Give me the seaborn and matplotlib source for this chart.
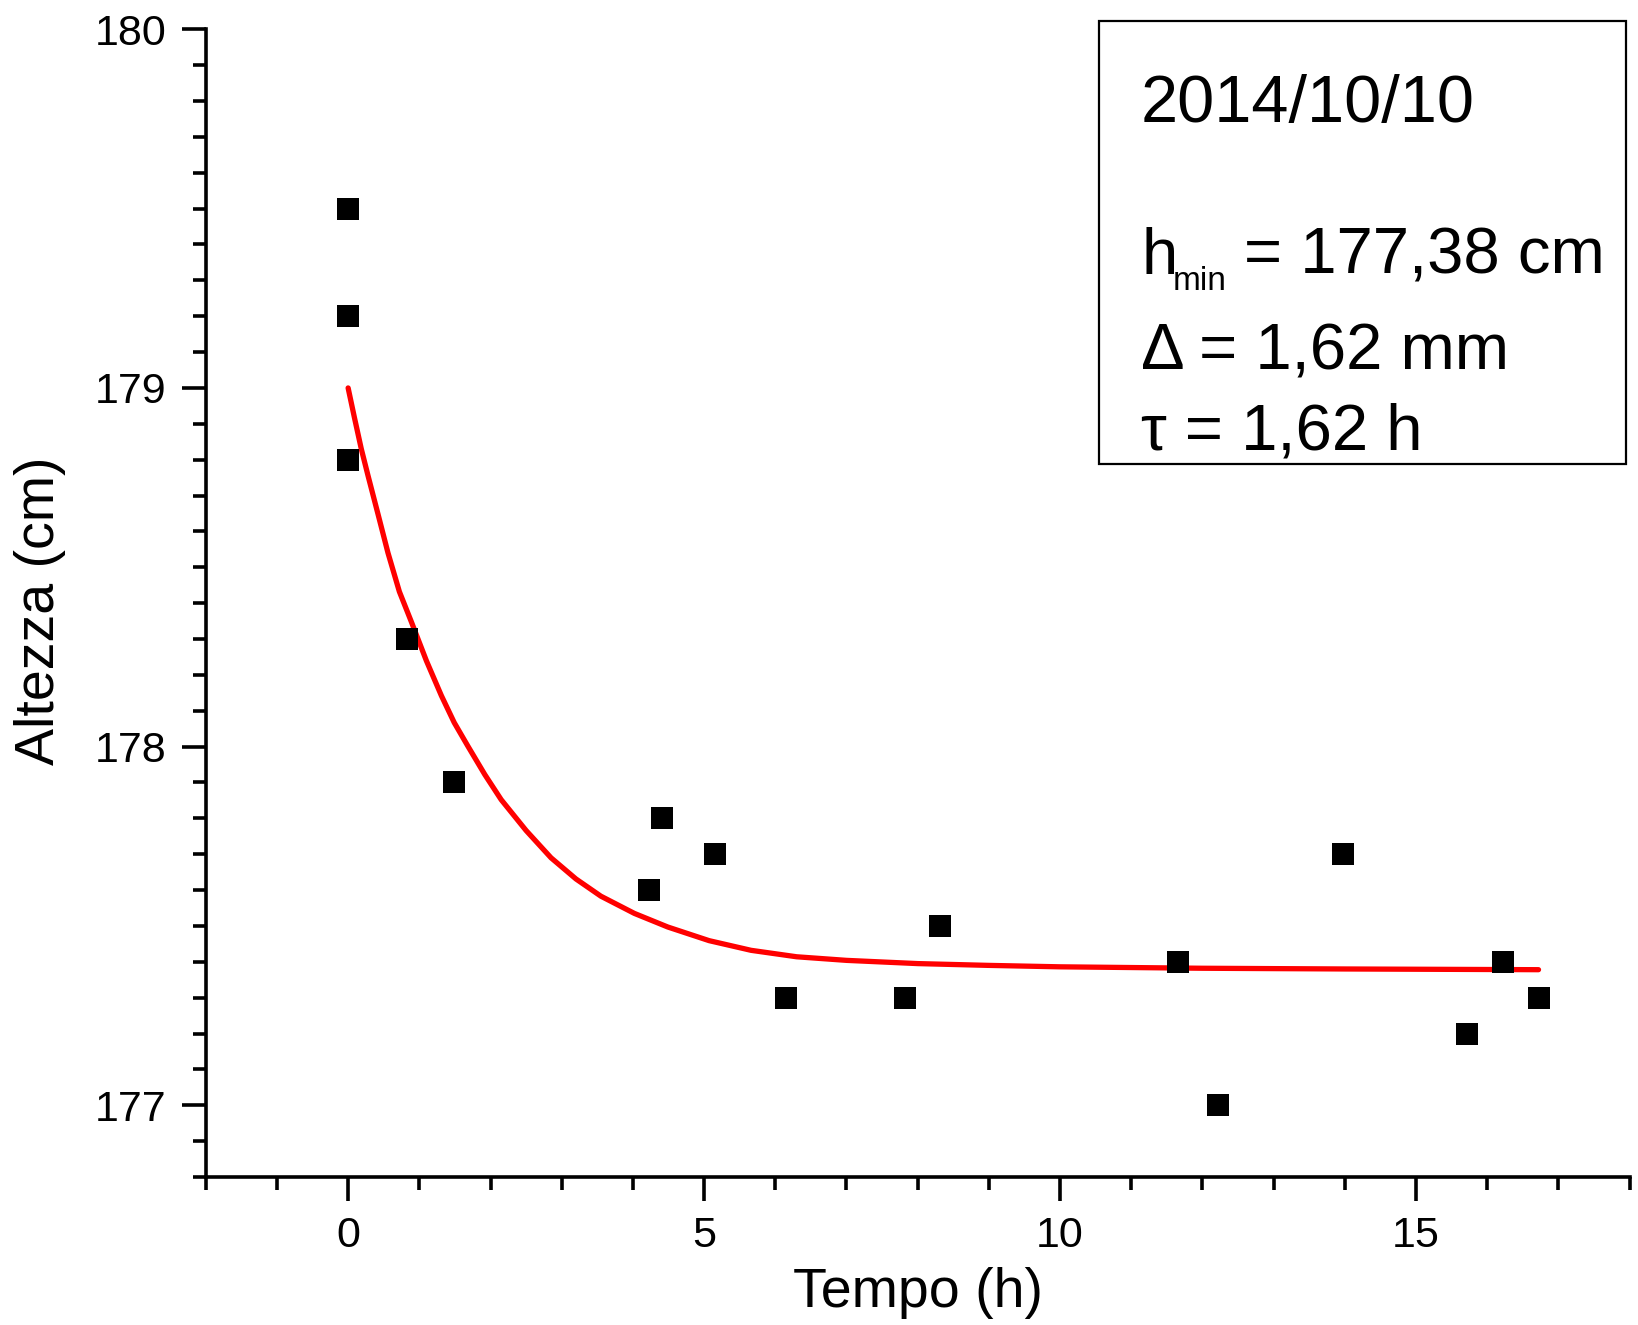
import matplotlib
matplotlib.use("Agg")
import matplotlib.pyplot as plt
from matplotlib.patches import Rectangle
from matplotlib.ticker import AutoMinorLocator
import seaborn as sns

# measured heights (cm) vs elapsed time (h)
tempo = [0.0, 0.0, 0.0, 0.82, 1.49, 4.23, 4.41, 5.15, 6.15, 7.82, 8.32,
         11.65, 12.22, 13.98, 15.72, 16.22, 16.72]
altezza = [179.5, 179.2, 178.8, 178.3, 177.9, 177.6, 177.8, 177.7, 177.3,
           177.3, 177.5, 177.4, 177.0, 177.7, 177.2, 177.4, 177.3]

# exponential fit curve
fit_t = [0.0, 0.09, 0.185, 0.28, 0.42, 0.56, 0.72, 0.89, 1.1, 1.31, 1.49,
         1.68, 1.92, 2.15, 2.5, 2.85, 3.2, 3.55, 4.02, 4.49, 5.07, 5.66,
         6.3, 7.0, 8.0, 9.0, 10.0, 12.0, 14.0, 16.72]
fit_h = [179.0, 178.916, 178.83, 178.755, 178.648, 178.54, 178.432, 178.347,
         178.239, 178.142, 178.067, 178.002, 177.922, 177.852, 177.766,
         177.69, 177.631, 177.583, 177.535, 177.497, 177.459, 177.432,
         177.414, 177.404, 177.395, 177.39, 177.386, 177.382, 177.38, 177.378]

xticks_major = [0, 5, 10, 15]
yticks_major = [177, 178, 179, 180]

W, H = 1638, 1325

sns.set_style("ticks")
plt.rcParams["font.family"] = ["Liberation Sans", "DejaVu Sans"]
plt.rcParams.update({
    "text.color": "black",
    "axes.labelcolor": "black",
    "axes.edgecolor": "black",
    "xtick.color": "black",
    "ytick.color": "black",
})

fig = plt.figure(figsize=(W / 100, H / 100), dpi=100)
ax = fig.add_axes([0.1256, 0.1117, 0.8693, 0.8662])

sns.lineplot(x=fit_t, y=fit_h, ax=ax, color="#ff0000", linewidth=3.8,
             sort=False, estimator=None, zorder=2)
sns.scatterplot(x=tempo, y=altezza, ax=ax, marker="s", s=230, color="black",
                linewidth=0, zorder=3)

ax.set_xlim(-2, 18)
ax.set_ylim(176.8, 180)
ax.set_xticks(xticks_major)
ax.set_yticks(yticks_major)
ax.xaxis.set_minor_locator(AutoMinorLocator(5))
ax.yaxis.set_minor_locator(AutoMinorLocator(10))

for side in ("top", "right"):
    ax.spines[side].set_visible(False)
for side in ("left", "bottom"):
    ax.spines[side].set_linewidth(2.6)

ax.tick_params(which="major", direction="out", length=17, width=2.6,
               labelsize=31, colors="black")
ax.tick_params(which="minor", direction="out", length=9.5, width=2.6,
               colors="black")
ax.tick_params(axis="x", which="major", pad=11)
ax.tick_params(axis="y", which="major", pad=11)

ax.set_xlabel("Tempo (h)", fontsize=40)
ax.xaxis.set_label_coords(0.5, -0.078)
ax.set_ylabel("Altezza (cm)", fontsize=40, va="center")
ax.yaxis.set_label_coords(-0.1164, 0.493)


def fx(x):
    return x / W


def fy(y):
    return 1 - y / H


# annotation box
fig.patches.append(Rectangle((fx(1099), fy(464)), fx(1626) - fx(1099),
                             fy(21) - fy(464), transform=fig.transFigure,
                             fill=False, edgecolor="black", linewidth=1.6))

fig.text(fx(1141), fy(122), "2014/10/10", fontsize=48, va="baseline")
fig.text(fx(1141), fy(274), "h", fontsize=47, va="baseline")
fig.text(fx(1173), fy(290), "min", fontsize=24, va="baseline")
fig.text(fx(1244), fy(274), "= 177,38 cm", fontsize=47, va="baseline")
fig.text(fx(1141), fy(369), "\u0394 = 1,62 mm", fontsize=47, va="baseline")
fig.text(fx(1141), fy(449), "\u03c4 = 1,62 h", fontsize=47, va="baseline")

fig.savefig("out.png", dpi=100)
